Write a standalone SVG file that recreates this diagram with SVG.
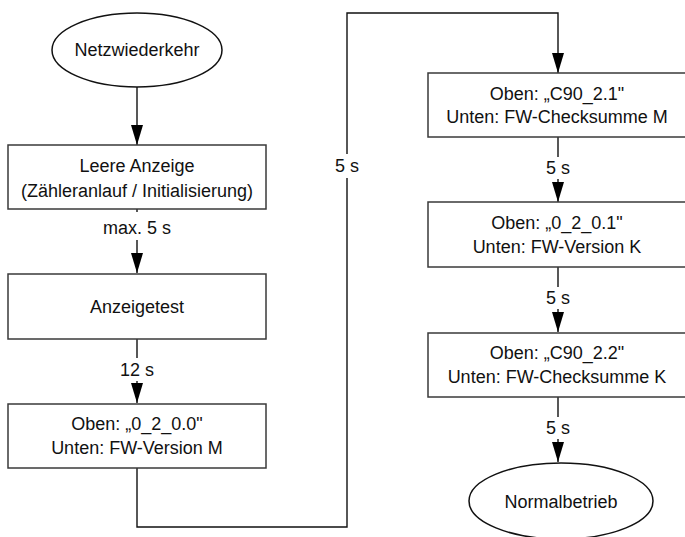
<svg xmlns="http://www.w3.org/2000/svg" width="685" height="537" viewBox="0 0 685 537">
<style>
  .box{fill:#fff;stroke:#3a3a3a;stroke-width:1.5}
  .ell{fill:#fff;stroke:#111;stroke-width:1.5}
  .t{font-family:"Liberation Sans",Arial,sans-serif;font-size:18px;fill:#111;text-anchor:middle}
  .c{fill:none;stroke:#111;stroke-width:1.4}
  .bg{fill:#fff}
</style>
<defs>
  <marker id="ah" markerUnits="userSpaceOnUse" markerWidth="20" markerHeight="12" refX="20" refY="6" orient="auto">
    <path d="M0,0 L20,6 L0,12 z" fill="#000"/>
  </marker>
</defs>
<rect width="685" height="537" fill="#fff"/>
<g id="connectors">
  <path class="c" d="M137,87 V145" marker-end="url(#ah)"/>
  <path class="c" d="M137,209 V273" marker-end="url(#ah)"/>
  <path class="c" d="M137,339 V403" marker-end="url(#ah)"/>
  <path class="c" d="M137,468 V527 H347 V13 H558 V73" marker-end="url(#ah)"/>
  <path class="c" d="M558,137 V202" marker-end="url(#ah)"/>
  <path class="c" d="M558,267 V332" marker-end="url(#ah)"/>
  <path class="c" d="M558,397 V462" marker-end="url(#ah)"/>
  <rect class="bg" x="100" y="212" width="74" height="28"/>
  <text class="t" x="137" y="234">max. 5 s</text>
  <rect class="bg" x="118" y="358" width="38" height="23"/>
  <text class="t" x="137" y="376">12 s</text>
  <rect class="bg" x="332" y="154" width="30" height="24"/>
  <text class="t" x="347" y="172">5 s</text>
  <rect class="bg" x="544" y="157" width="28" height="22"/>
  <text class="t" x="558" y="174">5 s</text>
  <rect class="bg" x="544" y="287" width="28" height="22"/>
  <text class="t" x="558" y="304">5 s</text>
  <rect class="bg" x="544" y="417" width="28" height="22"/>
  <text class="t" x="558" y="434">5 s</text>
</g>
<g id="n-netz">
  <ellipse class="ell" cx="137" cy="50" rx="85" ry="37"/>
  <text class="t" x="137" y="56">Netzwiederkehr</text>
</g>
<g id="n-leere">
  <rect class="box" x="8" y="145" width="258" height="64"/>
  <text class="t" x="137" y="172">Leere Anzeige</text>
  <text class="t" x="137" y="197">(Zähleranlauf / Initialisierung)</text>
</g>
<g id="n-test">
  <rect class="box" x="8" y="274" width="258" height="65"/>
  <text class="t" x="137" y="313">Anzeigetest</text>
</g>
<g id="n-fwm">
  <rect class="box" x="8" y="404" width="258" height="64"/>
  <text class="t" x="137" y="430">Oben: „0_2_0.0"</text>
  <text class="t" x="137" y="454">Unten: FW-Version M</text>
</g>
<g id="n-csm">
  <rect class="box" x="428" y="73" width="258" height="64"/>
  <text class="t" x="557" y="100">Oben: „C90_2.1"</text>
  <text class="t" x="557" y="123">Unten: FW-Checksumme M</text>
</g>
<g id="n-fwk">
  <rect class="box" x="428" y="202" width="258" height="65"/>
  <text class="t" x="557" y="229">Oben: „0_2_0.1"</text>
  <text class="t" x="557" y="253">Unten: FW-Version K</text>
</g>
<g id="n-csk">
  <rect class="box" x="428" y="333" width="258" height="64"/>
  <text class="t" x="557" y="359">Oben: „C90_2.2"</text>
  <text class="t" x="557" y="383">Unten: FW-Checksumme K</text>
</g>
<g id="n-normal">
  <ellipse class="ell" cx="561" cy="501" rx="92" ry="38"/>
  <text class="t" x="561" y="508">Normalbetrieb</text>
</g>
</svg>
